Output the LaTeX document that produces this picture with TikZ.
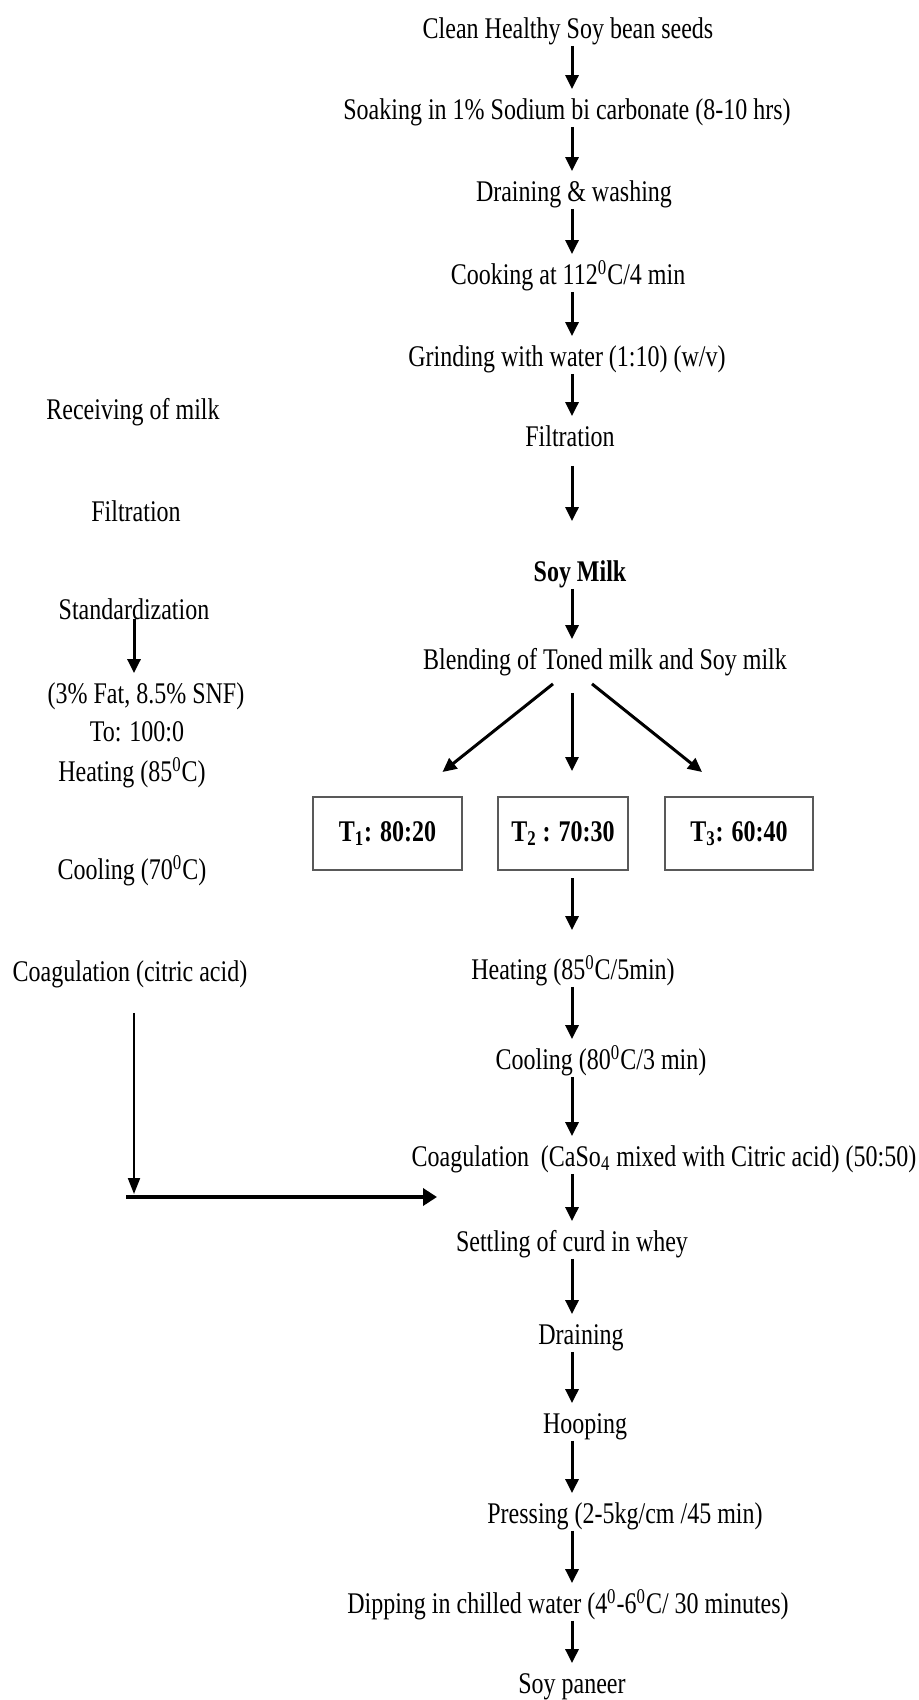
\documentclass[tikz,border=0pt]{standalone}
\usepackage{fontspec}
\setmainfont{Liberation Serif}[FakeStretch=0.8]
\usetikzlibrary{arrows.meta,calc,positioning}

\tikzset{
  stage/.style={inner sep=0pt, text height=15pt, text depth=3.5pt, font=\fontsize{15}{18}\selectfont},
  ratio/.style={draw=black!65, line width=1pt, minimum height=36.5pt, inner sep=0pt, font=\fontsize{15}{18}\selectfont\bfseries},
  flow/.style={line width=1.5pt, -{Triangle[length=7pt, width=6.5pt]}},
  feed/.style={line width=1pt, -{Triangle[length=8pt, width=6pt]}},
  merge/.style={line width=2pt, -{Triangle[length=7pt, width=8.5pt]}}
}

\begin{document}
\begin{tikzpicture}[x=0.5pt, y=-0.5pt]
				\useasboundingbox (0,0) rectangle (919,1700);
				\coordinate (spine) at (572,0);

				\node[stage] (seeds) at (568,27) {Clean Healthy Soy bean seeds};
				\node[stage] (soak) at (567,108) {Soaking in 1\% Sodium bi carbonate (8-10 hrs)};
				\node[stage] (wash) at (574,190) {Draining \& washing};
				\node[stage] (cook) at (568,273) {Cooking at 112\textsuperscript{0}C/4 min};
				\node[stage] (grind) at (567,355) {Grinding with water (1:10) (w/v)};
				\node[stage] (filter) at (570,435) {Filtration};
				\node[stage, font=\fontsize{15}{18}\selectfont\bfseries] (soymilk) at (580,570) {Soy Milk};
				\node[stage] (blend) at (605,658) {Blending of Toned milk and Soy milk};

				\node[ratio, minimum width=74.5pt] (t1) at (387.5,833.5) {T\textsubscript{1}: 80:20};
				\node[ratio, minimum width=65pt] (t2) at (563,833.5) {T\textsubscript{2} : 70:30};
				\node[ratio, minimum width=74pt] (t3) at (739,833.5) {T\textsubscript{3}: 60:40};

				\node[stage] (heat) at (573,968) {Heating (85\textsuperscript{0}C/5min)};
				\node[stage] (cool) at (601,1058) {Cooling (80\textsuperscript{0}C/3 min)};
				\node[stage] (coag) at (664,1155) {Coagulation\ \ (CaSo\textsubscript{4} mixed with Citric acid) (50:50)};
				\node[stage] (settle) at (572,1240) {Settling of curd in whey};
				\node[stage] (drain) at (581,1333) {Draining};
				\node[stage] (hoop) at (585,1422) {Hooping};
				\node[stage] (press) at (625,1512) {Pressing (2-5kg/cm /45 min)};
				\node[stage] (dip) at (568,1602) {Dipping in chilled water (4\textsuperscript{0}-6\textsuperscript{0}C/ 30 minutes)};
				\node[stage] (paneer) at (572,1682) {Soy paneer};

				\node[stage] (receive) at (133,408) {Receiving of milk};
				\node[stage] (mfilter) at (136,510) {Filtration};
				\node[stage] (standard) at (134,608) {Standardization};
				\node[stage] (fat) at (146,692) {(3\% Fat, 8.5\% SNF)};
				\node[stage] (tozero) at (137,730) {To: 100:0};
				\node[stage] (mheat) at (132,770) {Heating (85\textsuperscript{0}C)};
				\node[stage] (mcool) at (132,868) {Cooling (70\textsuperscript{0}C)};
				\node[stage] (mcoag) at (130,970) {Coagulation (citric acid)};

				\coordinate (drop) at (134,1194);
				\coordinate (bendL) at (126,1197);
				\coordinate (bendR) at (437,1197);

				\draw[flow] (seeds.south -| spine) to (soak.north -| spine);
				\draw[flow] (soak.south -| spine) to (wash.north -| spine);
				\draw[flow] (wash.south -| spine) to (cook.north -| spine);
				\draw[flow] (cook.south -| spine) to (grind.north -| spine);
				\draw[flow] (grind.south -| spine) to (filter.north -| spine);
				\draw[flow, shorten <=6pt, shorten >=15pt] (filter.south -| spine) to (soymilk.north -| spine);
				\draw[flow] (soymilk.south -| spine) to (blend.north -| spine);

				\draw[flow] ($(blend.south)+(-52,7)$) to ($(t1.north)+(55,-24)$);
				\draw[flow, shorten <=8pt, shorten >=12.5pt] (blend.south -| spine) to (t2.north -| spine);
				\draw[flow] ($(blend.south)+(-13,7)$) to ($(t3.north)+(-37,-24)$);

				\draw[flow, shorten <=3.5pt, shorten >=9.5pt] (t2.south -| spine) to (heat.north -| spine);
				\draw[flow] (heat.south -| spine) to (cool.north -| spine);
				\draw[flow] (cool.south -| spine) to (coag.north -| spine);
				\draw[flow] (coag.south -| spine) to (settle.north -| spine);
				\draw[flow] (settle.south -| spine) to (drain.north -| spine);
				\draw[flow] (drain.south -| spine) to (hoop.north -| spine);
				\draw[flow] (hoop.south -| spine) to (press.north -| spine);
				\draw[flow] (press.south -| spine) to (dip.north -| spine);
				\draw[flow] (dip.south -| spine) to (paneer.north -| spine);

				\draw[flow, shorten <=-4pt] (standard.south) to (fat.north -| standard);
				\draw[feed, shorten <=12pt] (mcoag.south -| drop) to (drop);
				\draw[merge] (bendL) to (bendR);
			\end{tikzpicture}
\end{document}
